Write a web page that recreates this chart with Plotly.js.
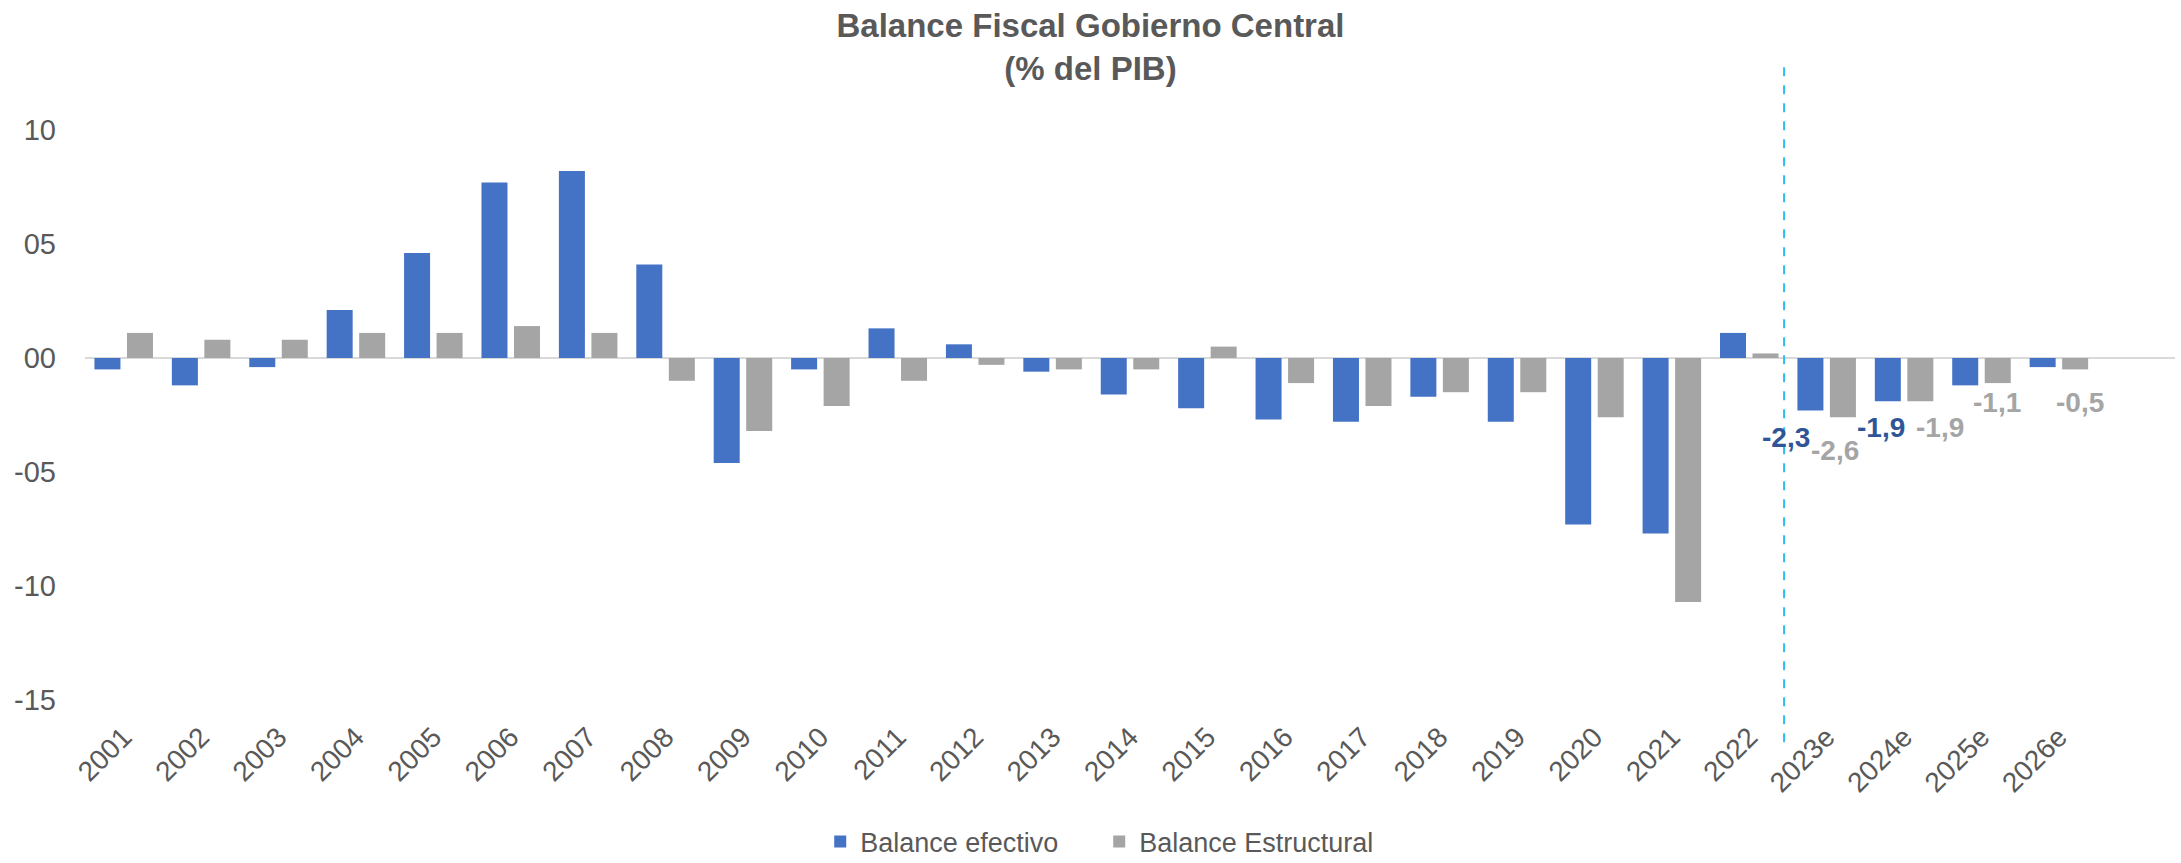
<!DOCTYPE html>
<html>
<head>
<meta charset="utf-8">
<script src="https://cdn.plot.ly/plotly-3.0.1.min.js"></script>
<style>html,body{margin:0;padding:0;background:#fff;}#chart{width:2181px;height:863px;}</style>
</head>
<body>
<div id="chart"></div>
<script>
// ---- data ----
const categories = ['2001','2002','2003','2004','2005','2006','2007','2008','2009','2010','2011','2012','2013',
  '2014','2015','2016','2017','2018','2019','2020','2021','2022','2023e','2024e','2025e','2026e'];
const balanceEfectivo = [-0.5,-1.2,-0.4,2.1,4.6,7.7,8.2,4.1,-4.6,-0.5,1.3,0.6,-0.6,-1.6,-2.2,-2.7,-2.8,-1.7,-2.8,-7.3,-7.7,1.1,-2.3,-1.9,-1.2,-0.4];
const balanceEstructural = [1.1,0.8,0.8,1.1,1.1,1.4,1.1,-1.0,-3.2,-2.1,-1.0,-0.3,-0.5,-0.5,0.5,-1.1,-2.1,-1.5,-1.5,-2.6,-10.7,0.2,-2.6,-1.9,-1.1,-0.5];
const yTickVals = [10,5,0,-5,-10,-15];
const yTickText = ['10','05','00','-05','-10','-15'];
const labelledEfectivo = ['2023e','2024e'];
const labelledEstructural = ['2023e','2024e','2025e','2026e'];

// ---- styling ----
const FONT = '"Liberation Sans", Arial, sans-serif';
const TXT = '#595959';
const BLUE = '#4472C4', GRAY = '#A5A5A5';
const labelOffsetsEf = {'2023e':[-41,-27], '2024e':[-23,-26]};
const labelOffsetsEs = {'2023e':[8,-33], '2024e':[36,-26], '2025e':[16,-19], '2026e':[21,-33]};

const fmt = v => v.toFixed(1).replace('.', ',');

const traces = [
  {type:'bar', name:'Balance efectivo', x:categories, y:balanceEfectivo, marker:{color:BLUE}, hoverinfo:'x+y'},
  {type:'bar', name:'Balance Estructural', x:categories, y:balanceEstructural, marker:{color:GRAY}, hoverinfo:'x+y'}
];

const annotations = [];
labelledEfectivo.forEach(c => {
  const v = balanceEfectivo[categories.indexOf(c)];
  const o = labelOffsetsEf[c];
  annotations.push({x:c, y:v, xref:'x', yref:'y', text:'<b>'+fmt(v)+'</b>', showarrow:false,
    xanchor:'center', yanchor:'middle', xshift:o[0], yshift:o[1],
    font:{family:FONT, size:28, color:'#2F5597'}});
});
labelledEstructural.forEach(c => {
  const v = balanceEstructural[categories.indexOf(c)];
  const o = labelOffsetsEs[c];
  annotations.push({x:c, y:v, xref:'x', yref:'y', text:'<b>'+fmt(v)+'</b>', showarrow:false,
    xanchor:'center', yanchor:'middle', xshift:o[0], yshift:o[1],
    font:{family:FONT, size:28, color:GRAY}});
});

const splitX = categories.indexOf('2022') + 0.45;

const layout = {
  width:2181, height:863,
  paper_bgcolor:'#fff', plot_bgcolor:'#fff',
  margin:{l:85, r:6, t:130, b:163},
  font:{family:FONT, color:TXT},
  title:{text:'<b>Balance Fiscal Gobierno Central</b><br><b>(% del PIB)</b>',
    font:{family:FONT, size:33, color:TXT}, x:0.5, xref:'container', xanchor:'center',
    y:1-37/863, yref:'container', yanchor:'middle'},
  barmode:'group', bargap:0.16, bargroupgap:0.2,
  xaxis:{type:'category', range:[-0.5, 26.5], tickangle:-45, showgrid:false, showline:false,
    zeroline:false, ticks:'', tickfont:{family:FONT, size:28, color:TXT}, ticklabelstandoff:14, fixedrange:true},
  yaxis:{range:[-15,10], tickvals:yTickVals, ticktext:yTickText, showgrid:false, showline:false,
    zeroline:true, zerolinecolor:'#D9D9D9', zerolinewidth:2.5, ticks:'',
    tickfont:{family:FONT, size:29, color:TXT}, ticklabelstandoff:28, fixedrange:true},
  showlegend:true,
  legend:{orientation:'h', xref:'container', yref:'container', x:0.504, xanchor:'center', y:1-842/863, yanchor:'middle',
    font:{family:FONT, size:27, color:TXT}, itemclick:false, entrywidth:234},
  shapes:[{type:'line', xref:'x', yref:'paper', x0:splitX, x1:splitX, y0:-0.074, y1:1.126,
    line:{color:'#2DBDF0', width:2, dash:'dash'}}],
  annotations:annotations
};

Plotly.newPlot('chart', traces, layout, {displayModeBar:false, staticPlot:true});
</script>
</body>
</html>
